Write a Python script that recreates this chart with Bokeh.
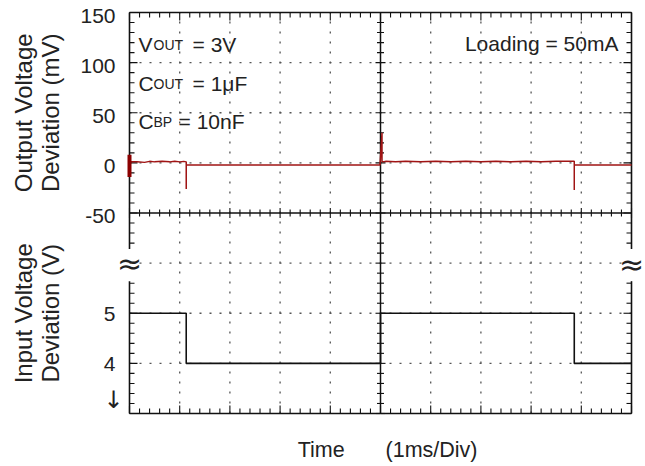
import numpy as np
from bokeh.plotting import figure
from bokeh.models import Range1d, Label
from bokeh.core.properties import value
from bokeh.embed import file_html
from bokeh.resources import INLINE

# ---------------- data ----------------
# time in ms (1 ms / division, 10 divisions); output deviation in mV
out_t = [0.0, 0.15, 0.3, 0.4, 0.5, 0.65, 0.8, 0.9, 1.0, 1.08, 1.13, 1.13, 1.13,
         2.0, 3.0, 4.0, 4.99, 5.03, 5.03, 5.1, 5.3, 5.5, 5.8, 6.1, 6.4, 6.7, 7.0,
         7.3, 7.6, 7.9, 8.2, 8.5, 8.86, 8.86, 8.86, 10.0]
out_mv = [1, 1, 0.5, 1.5, 1, 1.5, 1, 1.5, 1, 1.5, 1, -26, -2,
          -2, -2, -2, -2, 30, 1, 1.5, 1, 1.5, 1, 1.5, 1, 1.5, 1,
          1.5, 1, 1.5, 1, 1.5, 1.5, -27, -2, -2]
# turn-on glitch at the left edge (mV)
glitch_t = [0.0]
glitch_lo = [-14]
glitch_hi = [8]

# input voltage (V)
in_t = [0.0, 1.13, 1.13, 5.0, 5.0, 8.86, 8.86, 10.0]
in_v = [5, 5, 4, 4, 5, 5, 4, 4]

out_tick_vals = [-50, 0, 50, 100, 150]
out_tick_labels = ["-50", "0", "50", "100", "150"]
in_tick_vals = [4, 5]
in_tick_labels = ["4", "5"]

# ---------------- geometry ----------------
W, H = 645, 466
PX_L, PX_R, PX_T, PX_B = 129, 631, 12, 413     # plot box in pixels
T0, T1 = 0.0, 10.0                              # ms
MV_LO, MV_HI = -250.0, 150.0                    # upper-trace scale (mV)
V_LO, V_HI = 3.0, 11.0                          # lower-trace scale (V)

ms_per_px = (T1 - T0) / (PX_R - PX_L)
mv_per_px = (MV_HI - MV_LO) / (PX_B - PX_T)
v_per_px = (V_HI - V_LO) / (PX_B - PX_T)

x_range = Range1d(T0 - PX_L * ms_per_px, T1 + (W - PX_R) * ms_per_px)
y_range = Range1d(MV_LO - (H - PX_B) * mv_per_px, MV_HI + PX_T * mv_per_px)
v_range = Range1d(V_LO - (H - PX_B) * v_per_px, V_HI + PX_T * v_per_px)

FONT = "Liberation Sans"
SYM_FONT = "DejaVu Sans"
TXT = "#222222"
INK = "#111111"
RED = "#a01414"

p = figure(width=W, height=H, x_range=x_range, y_range=y_range,
           output_backend="svg", toolbar_location=None,
           x_axis_type=None, y_axis_type=None, min_border=0)
p.extra_y_ranges = {"v": v_range}
p.outline_line_color = None
p.background_fill_color = "white"
p.border_fill_color = "white"
p.xgrid.visible = False
p.ygrid.visible = False

GAP_LO, GAP_HI = -118.0, -86.0   # break in the side borders (mV scale)

# ---------------- dotted grid ----------------
gx = [1, 2, 3, 4, 6, 7, 8, 9]
gy = [-200, -150, -100, 0, 50, 100]
p.segment(x0=gx, y0=[MV_LO] * len(gx), x1=gx, y1=[MV_HI] * len(gx),
          line_color="#555555", line_dash="2 8", line_width=1.3)
p.segment(x0=[T0] * len(gy), y0=gy, x1=[T1] * len(gy), y1=gy,
          line_color="#555555", line_dash="2 8", line_width=1.3)

# ---------------- centre cross ----------------
p.segment(x0=[5, T0], y0=[MV_LO, -50], x1=[5, T1], y1=[MV_HI, -50], line_color=INK, line_width=1.5)

tx = np.round(np.arange(T0, T1 + 0.001, 0.2), 3)
tx_major = np.isclose(tx, np.round(tx))
ty = np.arange(MV_LO, MV_HI + 0.1, 10.0)
ty_major = np.mod(ty, 50) == 0
tlen_x = np.where(tx_major, 5, 3.5)
tlen_y = np.where(ty_major, 5, 3.5)
for ang in (np.pi / 2, -np.pi / 2):
    p.ray(x=tx, y=[-50] * len(tx), length=tlen_x, angle=ang, length_units="screen",
          line_color=INK, line_width=1.1)
for ang in (0, np.pi):
    p.ray(x=[5] * len(ty), y=ty, length=tlen_y, angle=ang, length_units="screen",
          line_color=INK, line_width=1.1)

# ---------------- border with break marks ----------------
p.segment(x0=[T0, T0, T1, T1, T0, T0], y0=[MV_LO, GAP_HI, MV_LO, GAP_HI, MV_LO, MV_HI],
          x1=[T0, T0, T1, T1, T1, T1], y1=[GAP_LO, MV_HI, GAP_LO, MV_HI, MV_LO, MV_HI],
          line_color=INK, line_width=1.6)

ok = (ty < GAP_LO) | (ty > GAP_HI)
blen_y = np.where(ty_major, 8, 5)[ok]
blen_x = np.where(tx_major, 8, 5)
p.ray(x=[T0] * int(ok.sum()), y=ty[ok], length=blen_y, angle=0, length_units="screen",
      line_color=INK, line_width=1.1)
p.ray(x=[T1] * int(ok.sum()), y=ty[ok], length=blen_y, angle=np.pi, length_units="screen",
      line_color=INK, line_width=1.1)
p.ray(x=tx, y=[MV_HI] * len(tx), length=blen_x, angle=-np.pi / 2, length_units="screen",
      line_color=INK, line_width=1.1)
p.ray(x=tx, y=[MV_LO] * len(tx), length=blen_x, angle=np.pi / 2, length_units="screen",
      line_color=INK, line_width=1.1)

# ---------------- traces ----------------
p.line(in_t, in_v, y_range_name="v", line_color=INK, line_width=1.6)
p.line(out_t, out_mv, line_color=RED, line_width=1.5)
p.segment(x0=glitch_t, y0=glitch_lo, x1=glitch_t, y1=glitch_hi, line_color="#8b0000", line_width=4)

# ---------------- tick labels ----------------
LBL_X = T0 - 14 * ms_per_px
p.text(x=[LBL_X] * len(out_tick_vals), y=out_tick_vals, text=out_tick_labels,
       text_align="right", text_baseline="middle", text_font=value(FONT),
       text_font_size="21px", text_color=TXT, y_offset=3)
p.text(x=[LBL_X] * len(in_tick_vals), y=in_tick_vals, text=in_tick_labels, y_range_name="v",
       text_align="right", text_baseline="middle", text_font=value(FONT),
       text_font_size="21px", text_color=TXT, y_offset=1)


# ---------------- texts ----------------
def lab(text, x, y, size="21px", align="left", baseline="alphabetic", angle=0.0, xo=0,
        font=FONT, **kw):
    p.add_layout(Label(x=x, y=y, text=text, x_offset=xo, text_font=font, text_font_size=size,
                       text_color=TXT, text_align=align, text_baseline=baseline, angle=angle, **kw))


X0 = 0.18
rows = [(118, "V", "OUT", "= 3V", 54), (79, "C", "OUT", "= 1\u03bcF", 54), (41, "C", "BP", "= 10nF", 40)]
for yb, main, sub, rest, xr in rows:
    lab(main, X0, yb)
    lab(sub, X0, yb, size="14px", xo=15)
    lab(rest, X0, yb, xo=xr)

lab("Loading = 50mA", 9.74, 119, align="right")

lab("Output Voltage", -2.12, 50, size="24px", align="center", baseline="middle", angle=np.pi / 2)
lab("Deviation (mV)", -1.57, 50, size="24px", align="center", baseline="middle", angle=np.pi / 2)
lab("Input Voltage", -2.12, 5, size="24px", align="center", baseline="middle", angle=np.pi / 2,
    y_range_name="v")
lab("Deviation (V)", -1.57, 5, size="24px", align="center", baseline="middle", angle=np.pi / 2,
    y_range_name="v")

lab("Time", 3.35, -286, size="21.5px")
lab("(1ms/Div)", 5.10, -286, size="21.5px")

lab("\u2193", -0.32, -237, size="24px", align="center", baseline="middle", font=SYM_FONT)
lab("\u2248", T0, -100, size="30px", align="center", baseline="middle", font=SYM_FONT)
lab("\u2248", T1, -101, size="30px", align="center", baseline="middle", font=SYM_FONT)

open("out.html", "w").write(file_html(p, INLINE))
